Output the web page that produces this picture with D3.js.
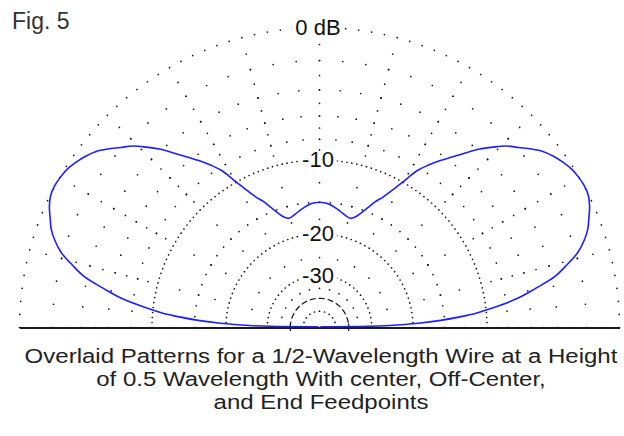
<!DOCTYPE html>
<html><head><meta charset="utf-8">
<script src="https://cdn.jsdelivr.net/npm/d3@7"></script>
<style>html,body{margin:0;padding:0;background:#fff;} svg{display:block;}</style>
</head><body>
<svg id="chart" width="624" height="436"></svg>
<script>
// ---- data (elevation angle in degrees, gain in dB) ----
const elevation = [0, 0.5, 1, 2, 3, 4, 5, 6, 8, 10, 12, 14, 16, 18, 20, 22, 24, 26, 28, 30,
  32, 34, 36, 38, 40, 42, 44, 46, 48, 50, 52, 54, 56, 58, 60, 62, 64, 66, 68, 70,
  72, 74, 76, 78, 80, 82, 84, 86, 88, 90,
  92, 94, 96, 98, 100, 102, 104, 106, 108, 110, 112, 114, 116, 118, 120, 122, 124, 126, 128, 130,
  132, 134, 136, 138, 140, 142, 144, 146, 148, 150, 152, 154, 156, 158, 160, 162, 164, 166, 168, 170,
  172, 174, 175, 176, 177, 178, 179, 179.5, 180];
const gainDb = [-99, -31, -25, -19, -15.5, -13, -11, -9.6, -7.1, -5.4, -3.8, -2.8, -1.9, -1.3, -0.85, -0.55, -0.25, -0.05, 0, -0.05,
  -0.15, -0.35, -0.6, -0.92, -1.4, -1.95, -2.45, -3.15, -3.9, -4.8, -5.7, -6.5, -7.4, -8.4, -10.0, -11.4, -12.6, -13.5, -14.6, -15.6,
  -16.4, -16.8, -16.7, -16.4, -16.1, -15.8, -15.5, -15.25, -15.15, -15.1,
  -15.15, -15.25, -15.5, -15.8, -16.1, -16.4, -16.7, -16.8, -16.4, -15.6, -14.6, -13.5, -12.6, -11.4, -10.0, -8.4, -7.4, -6.5, -5.7, -4.8,
  -3.9, -3.15, -2.45, -1.95, -1.4, -0.92, -0.6, -0.35, -0.15, -0.05, 0, -0.05, -0.25, -0.55, -0.85, -1.3, -1.9, -2.8, -3.8, -5.4,
  -7.1, -9.6, -11, -13, -15.5, -19, -25, -31, -99];

const labeledRings = [0, -10, -20, -30];
const ringLabels = ["0 dB", "-10", "-20", "-30"];
const outerRing = [0];
const sparseRings = [-2, -4, -6, -8, -15];
const denseRings = [-10, -20, -30, -50];
const dashedRings = [-40];
const spokeAngles = [0, 15, 30, 45, 60, 75, 90, 105, 120, 135, 150, 165, 180];
const spokeDb = [-1, -2, -3, -4, -5, -6, -7, -8, -9, -12.5, -15, -17.5, -25, -35];
const figLabel = "Fig. 5";
const captionLines = [
  "Overlaid Patterns for a 1/2-Wavelength Wire at a Height",
  "of 0.5 Wavelength With center, Off-Center,",
  "and End Feedpoints"
];

// ---- layout ----
const cx = 319.5, cy = 327.5, R = 300;
const svg = d3.select("#chart");
svg.append("rect").attr("width", 624).attr("height", 436).attr("fill", "#fff");

// ARRL log scale: radius = R * 0.89^(-dB/2) == R * (field ratio)^0.5061
const field = db => Math.pow(10, db / 20);
const rScale = d3.scalePow().exponent(0.5061).domain([0, 1]).range([0, R]);
const rad = db => rScale(field(db));
const aScale = d3.scaleLinear().domain([0, 180]).range([-Math.PI / 2, Math.PI / 2]);
const pt = (el, db) => { const a = aScale(el), rr = rad(db); return [cx + rr * Math.sin(a), cy - rr * Math.cos(a)]; };

const g = svg.append("g");
const dotR = 0.85, dotFill = "#111";
function dots(list) {
  g.append("g").selectAll("circle").data(list).join("circle")
    .attr("cx", d => d[0]).attr("cy", d => d[1]).attr("r", dotR).attr("fill", dotFill);
}

// outer ring: dot every 2.5 deg
dots(outerRing.flatMap(db => d3.range(0, 180.01, 2.5).map(e => pt(e, db))));
// sparse rings: dot every 5 deg
dots(sparseRings.flatMap(db => d3.range(0, 180.01, 5).map(e => pt(e, db))));
// spokes
dots(spokeAngles.flatMap(e => spokeDb.map(db => pt(e, db))));
// dense rings: dot every ~5 px of arc
dots(denseRings.flatMap(db => {
  const n = Math.round(Math.PI * rad(db) / 5);
  return d3.range(0, n + 1).map(i => pt(180 * i / n, db));
}));

// dashed ring(s)
dashedRings.forEach(db => {
  const rr = rad(db);
  g.append("path").attr("transform", `translate(${cx},${cy})`)
    .attr("d", d3.lineRadial().angle(d => aScale(d)).radius(rr)(d3.range(0, 180.01, 2)))
    .attr("fill", "none").attr("stroke", "#111").attr("stroke-width", 1.2).attr("stroke-dasharray", "6,3");
  [-1, 1].forEach(s => g.append("line").attr("x1", cx + s * rr).attr("x2", cx + s * rr)
    .attr("y1", cy - 4).attr("y2", cy + 3.5).attr("stroke", "#111").attr("stroke-width", 1.2));
});

// baseline
svg.append("rect").attr("x", 20).attr("y", 327).attr("width", 600).attr("height", 2).attr("fill", "#1a1a1a");

// pattern
const pattern = elevation.map((e, i) => ({el: e, db: gainDb[i]}));
svg.append("path").attr("transform", `translate(${cx},${cy - 0.8})`)
  .attr("d", d3.lineRadial().angle(d => aScale(d.el)).radius(d => rad(d.db)).curve(d3.curveCatmullRom.alpha(0.5))(pattern))
  .attr("fill", "none").attr("stroke", "#1f1fff").attr("stroke-width", 1.6);

// ring labels with white background
const font = "'Liberation Sans', Arial, sans-serif";
labeledRings.forEach((db, i) => {
  const y = cy - rad(db);
  const t = svg.append("text").attr("x", 318).attr("y", y).attr("text-anchor", "middle")
    .attr("dominant-baseline", "central").attr("font-family", font).attr("font-size", 22)
    .attr("fill", "#111").text(ringLabels[i]);
  const b = t.node().getBBox();
  svg.insert("rect", () => t.node()).attr("x", b.x - 3).attr("y", y - 5).attr("width", b.width + 6).attr("height", 10).attr("fill", "#fff");
});

// figure label
svg.append("text").attr("x", 12).attr("y", 29).attr("font-family", font).attr("font-size", 23)
  .attr("fill", "#333").text(figLabel);

// caption (narrow-height font stretched to the reference's line widths)
captionLines.forEach((s, i) => {
  const t = svg.append("text").attr("x", 321).attr("y", 363 + i * 23).attr("text-anchor", "middle")
    .attr("font-family", font).attr("font-size", 20).attr("fill", "#222").text(s);
  const w = t.node().getComputedTextLength();
  t.attr("textLength", w * 1.2).attr("lengthAdjust", "spacingAndGlyphs");
});
</script>
</body></html>
